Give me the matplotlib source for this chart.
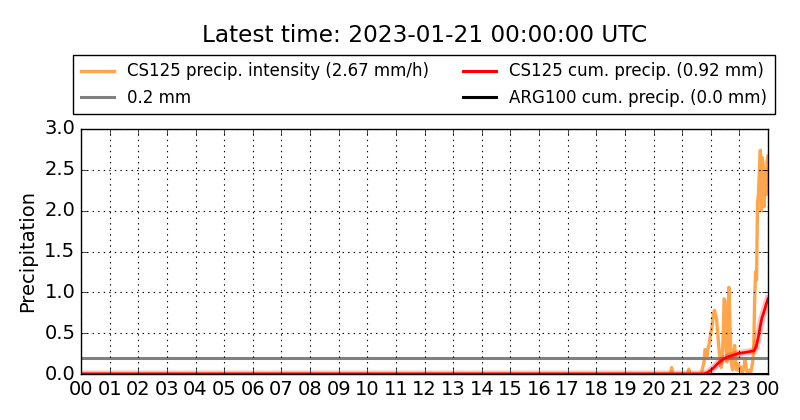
import numpy as np
import matplotlib
matplotlib.use("Agg")
import matplotlib.pyplot as plt
import matplotlib.patheffects as pe

title = "Latest time: 2023-01-21 00:00:00 UTC"

# CS125 intensity, minutes since 00:00 (mm/h)
early_min = [0, 1236, 1238, 1240, 1272, 1274, 1276]
early_val = [0.0, 0.0, 0.08, 0.0, 0.0, 0.06, 0.0]

burst_start, burst_step = 1300, 2   # 2-minute samples, 21:40 -> 24:00
burst_val = [0.0, 0.05, 0.1, 0.15, 0.3, 0.28, 0.22, 0.3, 0.35, 0.42,
             0.5, 0.55, 0.65, 0.75, 0.78, 0.72, 0.68, 0.55, 0.4, 0.25,
             0.12, 0.08, 0.2, 0.45, 0.92, 0.9, 0.35, 0.15, 0.4, 1.06,
             0.7, 0.25, 0.1, 0.05, 0.25, 0.35, 0.2, 0.05, 0.12, 0.05,
             0.1, 0.03, 0.08, 0.02, 0.05, 0.1, 0.18, 0.08, 0.02, 0.0,
             0.03, 0.05, 0.02, 0.08, 0.15, 0.3, 0.9, 1.25, 1.15, 2.1,
             2.2, 2.5, 2.74, 2.0, 2.65, 2.55, 2.05, 2.45, 2.2, 2.6, 2.67]

# CS125 cumulative precipitation (mm)
cum_min = [0, 1304, 1314, 1325, 1335, 1346, 1356, 1367, 1377, 1388,
           1398, 1406, 1411, 1415, 1419, 1423, 1427, 1432, 1436, 1440]
cum_val = [0.0, 0.0, 0.02, 0.07, 0.13, 0.18, 0.21, 0.23, 0.25, 0.26,
           0.27, 0.28, 0.285, 0.33, 0.43, 0.56, 0.68, 0.77, 0.85, 0.92]

threshold = 0.2
arg_min = [0, 1440]
arg_val = [0.0, 0.0]

hour_labels = ["%02d" % (h % 24) for h in range(25)]

plt.style.use("classic")
plt.rcParams["font.family"] = "DejaVu Sans"

fig = plt.figure(figsize=(8, 4.2), dpi=100, facecolor="white")
ax = fig.add_axes([81 / 800, 1 - 374 / 420, 687 / 800, 245 / 420])

burst_min = burst_start + burst_step * np.arange(len(burst_val))
t_int = np.concatenate([early_min, burst_min]) / 60.0
v_int = np.concatenate([early_val, burst_val])

ax.plot(t_int, v_int, color="#ffa64d", lw=2.4,
        label="CS125 precip. intensity (2.67 mm/h)")
ax.axhline(threshold, color="gray", lw=2.2, label="0.2 mm")
ax.plot(np.array(arg_min) / 60.0, arg_val, color="black", lw=2.2,
        label="ARG100 cum. precip. (0.0 mm)")
red, = ax.plot(np.array(cum_min) / 60.0, cum_val, color="red", lw=2.0,
               path_effects=[pe.Stroke(linewidth=5, foreground=(1, 0, 0, 0.25)), pe.Normal()])

ax.set_xlim(0, 24)
ax.set_ylim(0, 3.0)
ax.set_xticks(range(25))
ax.set_xticklabels(hour_labels)
ax.set_yticks(np.arange(0, 3.01, 0.5))
ax.tick_params(labelsize=14)
ax.set_ylabel("Precipitation", fontsize=14)
ax.grid(True, color="black", linestyle=":", linewidth=0.8)

h, l = ax.get_legend_handles_labels()
red_handle = plt.Line2D([], [], color="red", lw=2.2)
fig.legend([h[0], h[1], red_handle, h[2]],
           [l[0], l[1], "CS125 cum. precip. (0.92 mm)", l[2]], ncol=2,
           loc="center", bbox_to_anchor=(424 / 800, 1 - 84.5 / 420),
           fontsize=12, numpoints=1, columnspacing=2.0, handlelength=2,
           borderpad=0.45, fancybox=False)
fig.text(424.5 / 800, 1 - 35 / 420, title, fontsize=16.7, ha="center", va="center")

fig.savefig("out.png", dpi=100, facecolor="white")
